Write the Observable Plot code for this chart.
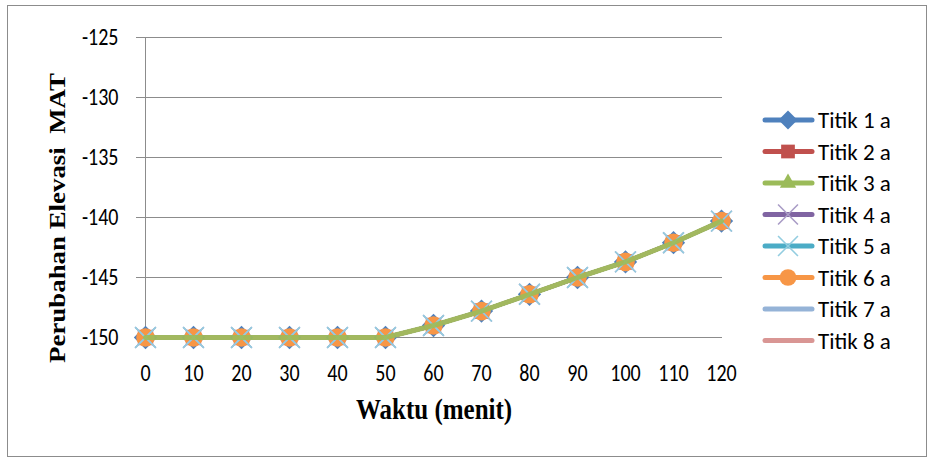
<!DOCTYPE html>
<html><head><meta charset="utf-8">
<script src="https://cdn.jsdelivr.net/npm/d3@7"></script>
<script src="https://cdn.jsdelivr.net/npm/@observablehq/plot@0.6"></script>
<style>
body{margin:0;background:#fff;}
#wrap{position:relative;width:929px;height:459px;overflow:hidden;}
#frame{position:absolute;left:7px;top:5px;width:920px;height:452px;border:1.5px solid #8c8c8c;box-sizing:border-box;pointer-events:none;}
</style></head><body>
<div id="wrap"><div id="frame"></div></div>
<script>
const waktu = [0, 10, 20, 30, 40, 50, 60, 70, 80, 90, 100, 110, 120];
const titik1 = [-150, -150, -150, -150, -150, -150, -149, -147.8, -146.4, -145, -143.7, -142.1, -140.3];
const titik2 = [-150, -150, -150, -150, -150, -150, -149, -147.8, -146.4, -145, -143.7, -142.1, -140.3];
const titik3 = [-150, -150, -150, -150, -150, -150, -149, -147.8, -146.4, -145, -143.7, -142.1, -140.3];
const titik4 = [-150, -150, -150, -150, -150, -150, -149, -147.8, -146.4, -145, -143.7, -142.1, -140.3];
const titik5 = [-150, -150, -150, -150, -150, -150, -149, -147.8, -146.4, -145, -143.7, -142.1, -140.3];
const titik6 = [-150, -150, -150, -150, -150, -150, -149, -147.8, -146.4, -145, -143.7, -142.1, -140.3];
const titik7 = [-150, -150, -150, -150, -150, -150, -149, -147.8, -146.4, -145, -143.7, -142.1, -140.3];
const titik8 = [-150, -150, -150, -150, -150, -150, -149, -147.8, -146.4, -145, -143.7, -142.1, -140.3];
const seriesNames = ["Titik 1 a", "Titik 2 a", "Titik 3 a", "Titik 4 a", "Titik 5 a", "Titik 6 a", "Titik 7 a", "Titik 8 a"];
const seriesColors = ["#4F81BD", "#C0504D", "#9BBB59", "#8064A2", "#4BACC6", "#F79646", "#95B3D7", "#D99694"];
const markerStrokeColors = [null, null, null, "#A99CC6", "#93CDE0", null, null, null];
const seriesSymbols = ["diamond2", "square2", "triangle2", "times", "times", "circle", null, null];
const yTicks = [-150, -145, -140, -135, -130, -125];
const xTitle = "Waktu (menit)";
const yTitle = "Perubahan Elevasi  MAT";

const allSeries = [titik1, titik2, titik3, titik4, titik5, titik6, titik7, titik8];
const rows = allSeries.flatMap((vals, i) => vals.map((v, j) => ({series: seriesNames[i], idx: i, waktu: waktu[j], value: v})));
const bySeries = i => rows.filter(d => d.idx === i);

const tickFont = "Carlito, Lato, 'Open Sans', sans-serif";
const hyphenFmt = d => (d < 0 ? "-" : "") + Math.abs(d);

const marks = [
  Plot.gridY(yTicks, {stroke: "#8c8c8c", strokeOpacity: 1, strokeWidth: 1}),
  Plot.axisY(yTicks, {tickSize: 8, tickPadding: 18, stroke: "#8c8c8c", fontSize: 20, label: null, tickFormat: hyphenFmt}),
  Plot.axisX(waktu, {tickSize: 0, tickPadding: 26, fontSize: 20, label: null}),
  Plot.ruleX([waktu[0]], {stroke: "#8c8c8c", strokeWidth: 1})
];
// lines except series 3 (drawn on top later)
[0, 1, 3, 4, 5, 6, 7].forEach(i => {
  marks.push(Plot.line(bySeries(i), {x: "waktu", y: "value", stroke: seriesColors[i], strokeWidth: 4}));
});
// filled markers
const markerR = {0: 10.5, 1: 9.8, 2: 7, 5: 9.3};
[0, 1, 2, 5].forEach(i => {
  marks.push(Plot.dot(bySeries(i), {
    x: "waktu", y: "value", symbol: () => seriesSymbols[i], r: markerR[i],
    fill: seriesColors[i], stroke: "none"
  }));
});
// cross markers
[3, 4].forEach(i => {
  marks.push(Plot.dot(bySeries(i), {
    x: "waktu", y: "value", symbol: () => seriesSymbols[i], r: 9.5,
    fill: "none", stroke: markerStrokeColors[i], strokeWidth: 1.6
  }));
});
marks.push(Plot.line(bySeries(2), {x: "waktu", y: "value", stroke: seriesColors[2], strokeWidth: 5, strokeOpacity: 0.9}));

const chart = Plot.plot({
  width: 929,
  height: 459,
  marginLeft: 144,
  marginRight: 207,
  marginTop: 37,
  marginBottom: 122,
  style: {fontFamily: tickFont, background: "transparent", color: "#000"},
  x: {type: "point", domain: waktu, padding: 0},
  y: {domain: [-150, -125]},
  marks
});

const svg = d3.select(chart);
// stretch tick labels vertically like the original
svg.selectAll('g[aria-label$="tick label"] text').each(function() {
  const t = this.getAttribute("transform") || "";
  this.setAttribute("transform", t + " scale(1,1.2)");
});

// axis titles
svg.append("text")
  .attr("transform", "translate(434,419) scale(1,1.15)")
  .attr("text-anchor", "middle")
  .attr("font-family", "'Liberation Serif', 'Times New Roman', serif")
  .attr("font-weight", "bold")
  .attr("font-size", 25)
  .attr("fill", "#000")
  .text(xTitle);
svg.append("text")
  .attr("transform", "translate(65,218) rotate(-90) scale(1.12,1)")
  .attr("text-anchor", "middle")
  .attr("xml:space", "preserve")
  .attr("font-family", "'Liberation Serif', 'Times New Roman', serif")
  .attr("font-weight", "bold")
  .attr("font-size", 24)
  .attr("fill", "#000")
  .text(yTitle);

// legend
const leg = svg.append("g").attr("aria-label", "legend");
const symMap = {diamond2: d3.symbolDiamond2, square2: d3.symbolSquare2, triangle2: d3.symbolTriangle2, times: d3.symbolTimes, circle: d3.symbolCircle};
seriesNames.forEach((name, i) => {
  const cy = 120 + i * 31.5;
  const g = leg.append("g").attr("transform", `translate(0,${cy})`);
  g.append("line").attr("x1", 765).attr("x2", 812).attr("y1", 0).attr("y2", 0)
    .attr("stroke", seriesColors[i]).attr("stroke-width", 5).attr("stroke-linecap", "round");
  const sym = seriesSymbols[i];
  if (sym) {
    const size = sym === "square2" ? 240 : sym === "diamond2" ? 230 : sym === "times" ? 260 : sym === "triangle2" ? 190 : 220;
    const isStroke = sym === "times";
    g.append("path").attr("transform", "translate(788,0)")
      .attr("d", d3.symbol(symMap[sym], size)())
      .attr("fill", isStroke ? "none" : seriesColors[i])
      .attr("stroke", isStroke ? markerStrokeColors[i] : "none")
      .attr("stroke-width", 1.6);
  }
  g.append("text").attr("x", 818).attr("y", 0).attr("dy", "0.35em")
    .attr("text-anchor", "start")
    .attr("font-family", tickFont).attr("font-size", 23).attr("fill", "#000")
    .text(name);
});

document.getElementById("wrap").prepend(chart);
</script>
</body></html>
